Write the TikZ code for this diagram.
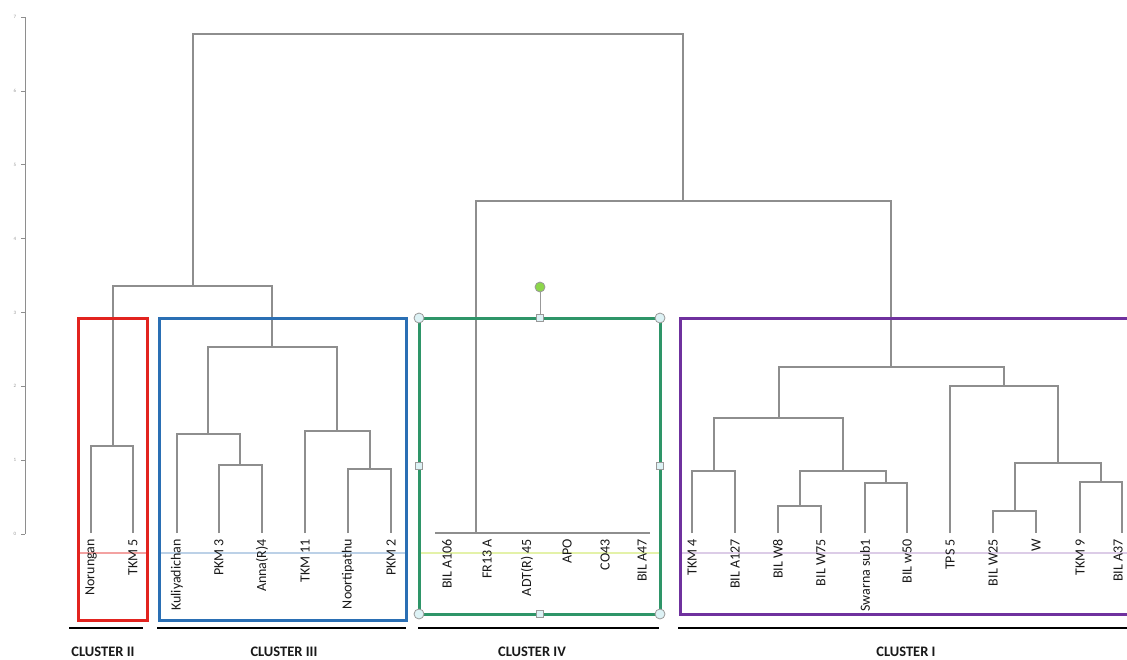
\documentclass[tikz,border=0pt]{standalone}
\usepackage{fontspec}
\setmainfont{Carlito}

\definecolor{treegray}{HTML}{8E8E8E}
\definecolor{clred}{HTML}{E2231F}
\definecolor{clblue}{HTML}{2A6FB4}
\definecolor{clgreen}{HTML}{2E9568}
\definecolor{clpurple}{HTML}{6F319E}
\definecolor{handlefill}{HTML}{DDF2F5}
\definecolor{rotfill}{HTML}{8CD64A}

% join of two sub-trees: left x, left bottom, right x, right bottom, height
\newcommand{\merge}[5]{\draw[branch] (#1,#2) -- (#1,#5) -- (#3,#5) -- (#3,#4);}

\begin{document}
\begin{tikzpicture}[x=1pt, y=-1pt,
  branch/.style={treegray, line width=1.1pt},
  leaf/.style={rotate=90, anchor=east, inner sep=0pt, text=black!90,
               font=\fontsize{14}{14}\selectfont},
  clbox/.style={line width=3pt},
  band/.style={line width=1.5pt, opacity=0.7},
  under/.style={black, line width=2.4pt},
  clname/.style={font=\bfseries\fontsize{14.5}{15}\selectfont, text=black!90,
                 inner sep=0pt},
  handle/.style={draw=gray!80, fill=handlefill, line width=0.8pt},
  tick/.style={font=\fontsize{5}{5}\selectfont, text=gray!80}]

  \useasboundingbox (0,0) rectangle (1127,659);
  \clip (0,0) rectangle (1127,659);

  % height axis
  \draw[treegray, line width=0.8pt] (25,17) -- (25,534);
  \foreach \k in {0,...,7} {
    \draw[treegray, line width=0.6pt] (21,534-73.85*\k) -- (25,534-73.85*\k);
    \node[tick] (t\k) at (15,534-73.85*\k) {\k};
  }

  % faint colour bands behind the labels
  \draw[band, clred!60] (78,553) -- (147,553);
  \draw[band, clblue!45] (159,553) -- (405,553);
  \draw[band, yellow!70!green!50] (420,553) -- (660,553);
  \draw[band, clpurple!35] (680,553) -- (1127,553);

  % leaves
  \foreach \x/\name/\txt in {
      91/norungan/Norungan, 133/tkmv/TKM 5,
      177/kuli/Kuliyadichan, 219/pkmiii/PKM 3, 262/anna/Anna(R)4,
      305/tkmxi/TKM 11, 348/noorti/Noortipathu, 391/pkmii/PKM 2,
      447/bila106/BIL A106, 487/fr13/FR13 A, 527/adt/ADT(R) 45,
      567/apo/APO, 605/co43/CO43, 642/bila47/BIL A47,
      692/tkmiv/TKM 4, 735/bila127/BIL A127, 778/bilw8/BIL W8,
      821/bilw75/BIL W75, 865/swarna/Swarna sub1, 907/bilw50/BIL w50,
      950/tps5/TPS 5, 993/bilw25/BIL W25, 1036/w/W,
      1080/tkmix/TKM 9, 1118/bila37/BIL A37}
    \node[leaf] (\name) at (\x,539) {\txt};

  % dendrogram
  \merge{193}{286}{683}{201}{34}
  \merge{113}{446}{272}{347}{286}
  \merge{91}{533}{133}{533}{446}
  \merge{208}{434}{337}{431}{347}
  \merge{177}{533}{240}{465}{434}
  \merge{219}{533}{262}{533}{465}
  \merge{305}{533}{370}{469}{431}
  \merge{348}{533}{391}{533}{469}
  \merge{476}{533}{891}{367}{201}
  \draw[branch] (435,533) -- (650,533);
  \merge{779}{418}{1004}{386}{367}
  \merge{714}{471}{843}{471}{418}
  \merge{692}{533}{735}{533}{471}
  \merge{800}{506}{886}{483}{471}
  \merge{778}{533}{821}{533}{506}
  \merge{865}{533}{907}{533}{483}
  \merge{950}{533}{1058}{463}{386}
  \merge{1015}{511}{1101}{482}{463}
  \merge{993}{533}{1036}{533}{511}
  \merge{1080}{533}{1122}{533}{482}

  % cluster frames
  \draw[clbox, clred] (78,318) rectangle (147,620);
  \draw[clbox, clblue] (159,318) rectangle (406,620);
  \draw[clbox, clgreen] (419,318) rectangle (660,614);
  \draw[clbox, clpurple] (680,318) rectangle (1140,614);

  % selection handles on cluster IV
  \draw[gray!80, line width=0.9pt] (540,292) -- (540,314);
  \node[handle, circle, fill=rotfill, minimum size=10pt, inner sep=0pt] (rot) at (540,287) {};
  \foreach \p/\q in {419/318, 660/318, 419/614, 660/614}
    \node[handle, circle, minimum size=10pt, inner sep=0pt] at (\p,\q) {};
  \foreach \p/\q in {540/318, 540/614, 419/466, 660/466}
    \node[handle, rectangle, minimum size=7pt, inner sep=0pt] at (\p,\q) {};

  % cluster names
  \draw[under] (69,628) -- (143,628);
  \draw[under] (157,628) -- (406,628);
  \draw[under] (418,628) -- (659,628);
  \draw[under] (678,628) -- (1127,628);
  \node[clname] (cII) at (103,652) {CLUSTER II};
  \node[clname] (cIII) at (284,652) {CLUSTER III};
  \node[clname] (cIV) at (532,652) {CLUSTER IV};
  \node[clname] (cI) at (906,652) {CLUSTER I};

\end{tikzpicture}
\end{document}
